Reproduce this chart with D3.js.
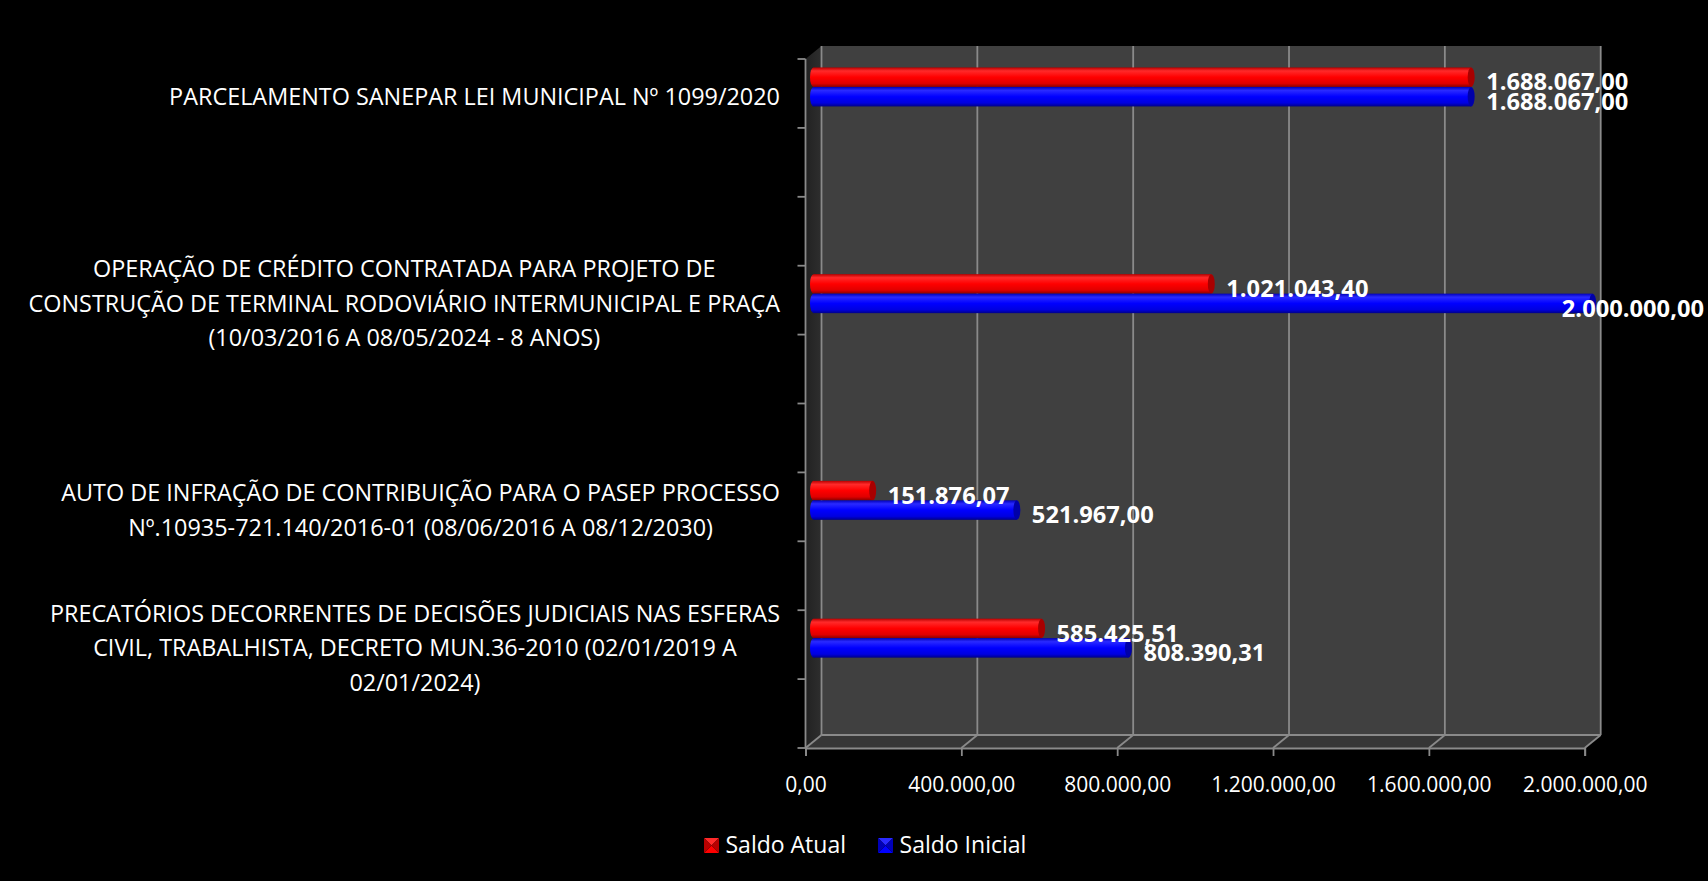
<!DOCTYPE html>
<html>
<head>
<meta charset="utf-8">
<script src="https://cdn.jsdelivr.net/npm/d3@7"></script>
<style>
  body { margin: 0; background: #000; }
  svg { display: block; font-family: "Open Sans", sans-serif; }
</style>
</head>
<body>
<svg width="1708" height="881"></svg>
<script>
// categorias (de cima para baixo) - linhas vazias da planilha ficam com ""
var categorias = [
  ["PARCELAMENTO SANEPAR LEI MUNICIPAL Nº 1099/2020"],
  [""],
  [""],
  ["OPERAÇÃO DE CRÉDITO CONTRATADA PARA PROJETO DE",
   "CONSTRUÇÃO DE TERMINAL RODOVIÁRIO INTERMUNICIPAL E PRAÇA",
   "(10/03/2016 A 08/05/2024 - 8 ANOS)"],
  [""],
  [""],
  ["AUTO DE INFRAÇÃO DE CONTRIBUIÇÃO PARA O PASEP PROCESSO",
   "Nº.10935-721.140/2016-01 (08/06/2016 A 08/12/2030)"],
  [""],
  ["PRECATÓRIOS DECORRENTES DE DECISÕES JUDICIAIS NAS ESFERAS",
   "CIVIL, TRABALHISTA, DECRETO MUN.36-2010 (02/01/2019 A",
   "02/01/2024)"],
  [""]
];
var saldoAtual   = [1688067.00, null, null, 1021043.40, null, null, 151876.07, null, 585425.51, null];
var saldoInicial = [1688067.00, null, null, 2000000.00, null, null, 521967.00, null, 808390.31, null];
var ticksX = [0, 400000, 800000, 1200000, 1600000, 2000000];
var rotulosX = ["0,00", "400.000,00", "800.000,00", "1.200.000,00", "1.600.000,00", "2.000.000,00"];
var series = ["Saldo Atual", "Saldo Inicial"];

var svg = d3.select("svg");
var fmt = function(v) {
  var s = v.toFixed(2).split(".");
  return s[0].replace(/\B(?=(\d{3})+(?!\d))/g, ".") + "," + s[1];
};

// escalas (plano da frente) + profundidade 3D
var DX = 16, DY = -13;
var x = d3.scaleLinear().domain([0, 2000000]).range([805.5, 1584.7]);
var y = d3.scaleBand().domain(d3.range(categorias.length)).range([59, 748]);
var sub = d3.scaleBand().domain(series).range([0, 39]);
var cores = { "Saldo Atual": ["#b80000", "#ff2a2a", "#ff0000", "#e00000", "#8a0000", "#a80000"],
              "Saldo Inicial": ["#0000b8", "#2a2aff", "#0000ff", "#0000e0", "#00008a", "#0000a8"] };

var defs = svg.append("defs");
series.forEach(function(s, k) {
  var g = defs.append("linearGradient").attr("id", "grad" + k)
    .attr("x1", 0).attr("y1", 0).attr("x2", 0).attr("y2", 1);
  [0, 0.18, 0.5, 0.82, 1].forEach(function(o, j) {
    g.append("stop").attr("offset", o).attr("stop-color", cores[s][j]);
  });
});
var sideGrad = defs.append("linearGradient").attr("id", "side").attr("x1", 0).attr("x2", 1);
sideGrad.append("stop").attr("offset", 0).attr("stop-color", "#222");
sideGrad.append("stop").attr("offset", 1).attr("stop-color", "#2e2e2e");

var top0 = y.range()[0], bot0 = y.range()[1];
var x0 = x.range()[0], x1 = x.range()[1];

// paredes
svg.append("polygon").attr("fill", "#404040")
  .attr("points", [[x0 + DX, top0 + DY], [x1 + DX, top0 + DY], [x1 + DX, bot0 + DY], [x0 + DX, bot0 + DY]].join(" "));
svg.append("polygon").attr("fill", "url(#side)")
  .attr("points", [[x0, top0], [x0 + DX, top0 + DY], [x0 + DX, bot0 + DY], [x0, bot0]].join(" "));
svg.append("polygon").attr("fill", "#363636")
  .attr("points", [[x0, bot0], [x1, bot0], [x1 + DX, bot0 + DY], [x0 + DX, bot0 + DY]].join(" "));

// grade
var grid = svg.append("g").attr("stroke", "#8a8a8a").attr("stroke-width", 1.8).attr("fill", "none");
ticksX.forEach(function(t) {
  grid.append("line").attr("x1", x(t) + DX).attr("x2", x(t) + DX)
    .attr("y1", top0 + DY).attr("y2", bot0 + DY);
  grid.append("line").attr("x1", x(t)).attr("x2", x(t) + DX)
    .attr("y1", bot0).attr("y2", bot0 + DY);
});
grid.append("line").attr("x1", x0 + DX).attr("x2", x1 + DX).attr("y1", bot0 + DY).attr("y2", bot0 + DY);

// eixos
var axisX = d3.axisBottom(x).tickValues(ticksX).tickSize(8).tickFormat(function(d, i) { return rotulosX[i]; });
var gx = svg.append("g").attr("transform", "translate(0," + bot0 + ")").call(axisX)
  .attr("font-size", 21).attr("font-family", "Open Sans");
gx.select(".domain").attr("stroke", "#8a8a8a").attr("stroke-width", 1.8);
gx.selectAll(".tick line").attr("stroke", "#8a8a8a").attr("stroke-width", 1.8);
gx.selectAll(".tick text").attr("fill", "#fff").attr("y", 28.6).attr("dy", "0.71em");

var gy = svg.append("g").attr("stroke", "#8a8a8a").attr("stroke-width", 1.8);
gy.append("line").attr("x1", x0).attr("x2", x0).attr("y1", top0).attr("y2", bot0);
y.domain().concat([categorias.length]).forEach(function(i) {
  var yy = i < categorias.length ? y(i) : bot0;
  gy.append("line").attr("x1", x0 - 8).attr("x2", x0).attr("y1", yy).attr("y2", yy);
});

// rotulos das categorias
var fs = 23.4, lh = 34.5;
categorias.forEach(function(linhas, i) {
  if (!linhas[0]) return;
  var t = svg.append("text").attr("fill", "#fff").attr("font-size", fs).attr("text-anchor", "middle");
  var yc = y(i) + y.bandwidth() / 2 + 3;
  var b0 = yc - (linhas.length - 1) / 2 * lh + 0.36 * fs;
  linhas.forEach(function(l, j) {
    t.append("tspan").attr("y", b0 + j * lh).text(l);
  });
  var w = d3.max(t.selectAll("tspan").nodes(), function(n) { return n.getComputedTextLength(); });
  t.selectAll("tspan").attr("x", 780 - w / 2);
});

// barras cilindricas
var xm = function(v) { return x(v) + DX / 2; };
var dados = [];
categorias.forEach(function(c, i) {
  [saldoAtual[i], saldoInicial[i]].forEach(function(v, k) {
    if (v != null) dados.push({ i: i, s: series[k], k: k, v: v });
  });
});
var barras = svg.append("g");
dados.forEach(function(d) {
  var h = sub.bandwidth();
  var yt = y(d.i) + (y.bandwidth() - 39) / 2 + sub(d.s) + DY / 2;
  var xa = xm(0), xb = xm(d.v);
  var g = barras.append("g");
  g.append("ellipse").attr("cx", xa).attr("cy", yt + h / 2).attr("rx", 3.5).attr("ry", h / 2)
    .attr("fill", "url(#grad" + d.k + ")");
  g.append("rect").attr("x", xa).attr("y", yt).attr("width", xb - xa).attr("height", h)
    .attr("fill", "url(#grad" + d.k + ")");
  g.append("ellipse").attr("cx", xb).attr("cy", yt + h / 2).attr("rx", 3.5).attr("ry", h / 2)
    .attr("fill", cores[d.s][5]);
  d.lx = xb + 3.5 + 11.5;
  d.ly = yt + h + 3.5;
});

// rotulos de dados
dados.forEach(function(d) {
  var t = svg.append("text").attr("fill", "#fff").attr("font-weight", "bold").attr("font-size", 23.7)
    .attr("x", d.lx).attr("y", d.ly).text(fmt(d.v));
  var w = t.node().getComputedTextLength();
  if (d.lx + w > 1704) t.attr("x", 1704 - w);
});

// legenda
var lx = 704;
series.forEach(function(s, k) {
  var g = svg.append("g").attr("transform", "translate(" + lx + ",838)");
  var c = cores[s];
  g.append("polygon").attr("points", "0,0 15,0 7.5,7.5").attr("fill", c[1]);
  g.append("polygon").attr("points", "0,15 15,15 7.5,7.5").attr("fill", c[2]);
  g.append("polygon").attr("points", "0,0 0,15 7.5,7.5").attr("fill", c[0]);
  g.append("polygon").attr("points", "15,0 15,15 7.5,7.5").attr("fill", c[0]);
  var t = g.append("text").attr("x", 21.5).attr("y", 15).attr("fill", "#fff").attr("font-size", 23).text(s);
  lx += 21.5 + t.node().getComputedTextLength() + 32;
});
</script>
</body>
</html>
